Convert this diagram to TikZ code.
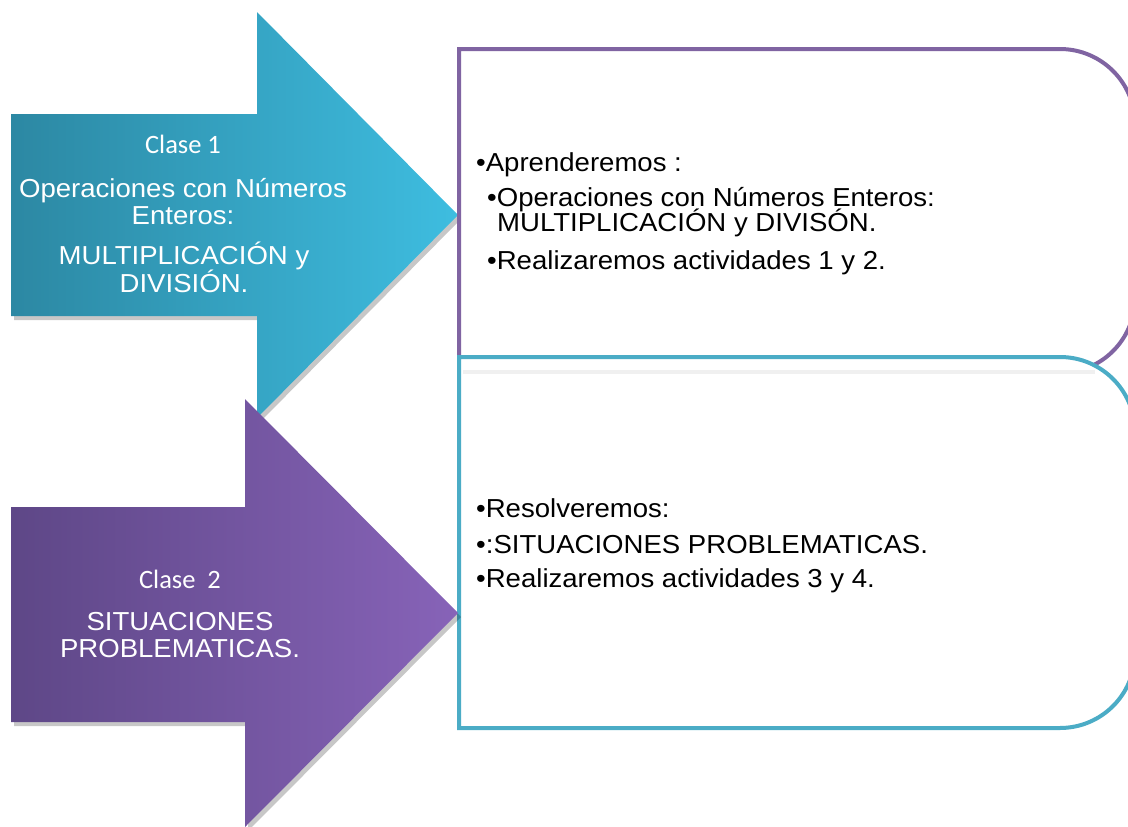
\documentclass[tikz,border=0pt]{standalone}
\usepackage{fontspec}
\setmainfont{Liberation Sans}
\newfontfamily\arialw[FakeStretch=1.06]{Liberation Sans}
\newfontfamily\calib{Carlito}
\definecolor{cyanL}{HTML}{2C88A3}
\definecolor{cyanR}{HTML}{3EBDE0}
\definecolor{purpL}{HTML}{5E4787}
\definecolor{purpR}{HTML}{8763B8}
\definecolor{boxpurp}{HTML}{8064A2}
\definecolor{boxcyan}{HTML}{4BACC6}
\tikzset{
  atext/.style={text=white, font=\arialw\fontsize{26}{28}\selectfont, inner sep=0pt, anchor=base},
  clase/.style={text=white, font=\calib\fontsize{26.5}{28}\selectfont, inner sep=0pt, anchor=base},
  btext/.style={text=black, font=\arialw\fontsize{26}{28}\selectfont, inner sep=0pt, anchor=base west},
  shadowfill/.style={fill=black, opacity=0.22},
  boxline/.style={line width=4pt, fill=white}
}
\begin{document}
\begin{tikzpicture}[x=1pt,y=-1pt]
\useasboundingbox (0,0) rectangle (1128,827);
\clip (0,0) rectangle (1128,827);
% arrow 1
\fill[shadowfill, shift={(3,4)}] (11,114) -- (257,114) -- (257,12) -- (458,215) -- (257,418) -- (257,316) -- (11,316) -- cycle;
\shade[left color=cyanL, right color=cyanR] (11,114) -- (257,114) -- (257,12) -- (458,215) -- (257,418) -- (257,316) -- (11,316) -- cycle;
% box 1
\filldraw[boxline, draw=boxpurp] (459,49) -- (1060,49) arc (-90:0:75) -- (1135,298) arc (0:90:75) -- (459,373) -- cycle;
% box 2
\filldraw[boxline, draw=boxcyan] (459,357) -- (1060,357) arc (-90:0:75) -- (1135,653) arc (0:90:75) -- (459,728) -- cycle;
\draw[line width=4pt, black!6] (463,372) -- (1095,372);
% arrow 2
\fill[shadowfill, shift={(3,4)}] (11,507) -- (245,507) -- (245,399) -- (458,613) -- (245,827) -- (245,722) -- (11,722) -- cycle;
\shade[left color=purpL, right color=purpR] (11,507) -- (245,507) -- (245,399) -- (458,613) -- (245,827) -- (245,722) -- (11,722) -- cycle;
% arrow texts
\node[clase] (c1) at (183,153) {Clase 1};
\node[atext] (o1) at (183,197) {Operaciones con Números};
\node[atext] (o2) at (183,224) {Enteros:};
\node[atext] (m1) at (184,264) {MULTIPLICACIÓN y};
\node[atext] (m2) at (184,292) {DIVISIÓN.};
\node[clase] (c2) at (180,588) {Clase\ \ 2};
\node[atext] (s1) at (180,630) {SITUACIONES};
\node[atext] (s2) at (180,657) {PROBLEMATICAS.};
% box 1 texts
\node[btext] (a1) at (476,171) {•Aprenderemos :};
\node[btext] (a2) at (487,206) {•Operaciones con Números Enteros:};
\node[btext] (a3) at (497,231) {MULTIPLICACIÓN y DIVISÓN.};
\node[btext] (a4) at (487,269) {•Realizaremos actividades 1 y 2.};
% box 2 texts
\node[btext] (r1) at (476,517) {•Resolveremos:};
\node[btext] (r2) at (476,553) {•:SITUACIONES PROBLEMATICAS.};
\node[btext] (r3) at (476,587) {•Realizaremos actividades 3 y 4.};
\end{tikzpicture}
\end{document}
